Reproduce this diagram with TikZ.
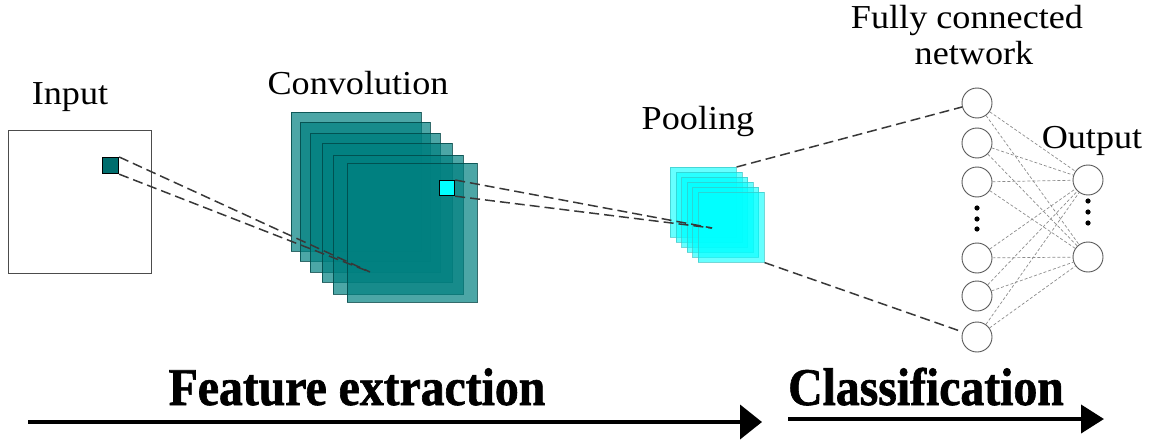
\documentclass[tikz,border=0pt]{standalone}
\usepackage{fontspec}
\setmainfont{Liberation Serif}[FakeStretch=1.08]
\newfontfamily\boldlab{Liberation Serif Bold}[FakeStretch=0.9,FakeBold=1.2]
\usetikzlibrary{arrows.meta}
\definecolor{aqua}{RGB}{0,255,255}
\definecolor{tealc}{RGB}{0,128,128}
\begin{document}
\begin{tikzpicture}[x=1pt,y=-1pt,
  lab/.style={font=\fontsize{33.5}{40}\selectfont, inner sep=0pt, anchor=base},
  biglab/.style={font=\boldlab\fontsize{53}{60}\selectfont, inner sep=0pt, anchor=base},
  convsq/.style={rectangle, anchor=north west, minimum width=130pt, minimum height=139pt, inner sep=0pt,
    fill=tealc, fill opacity=0.7, draw=tealc!55!black, draw opacity=0.8, line width=0.8pt},
  poolsq/.style={rectangle, anchor=north west, minimum width=66pt, minimum height=70pt, inner sep=0pt,
    fill=aqua, fill opacity=0.6, draw=aqua!55!gray, draw opacity=0.7, line width=0.6pt},
  smallsq/.style={rectangle, anchor=north west, inner sep=0pt, draw=black, line width=1.2pt},
  dl/.style={dash pattern=on 10pt off 5pt, line width=1.5pt, draw=black!78},
  fcl/.style={dash pattern=on 3pt off 2pt, line width=0.7pt, draw=black!45},
  neuron/.style={circle, draw=black!65, line width=0.9pt, fill=white, minimum size=30pt, inner sep=0pt},
  bigarrow/.style={line width=4pt, -{Triangle[length=22pt,width=34pt]}},
  smallarrow/.style={line width=4pt, -{Triangle[length=23pt,width=28pt]}}
]
\useasboundingbox (0,0) rectangle (1153,441);

% Input
\node[rectangle, anchor=north west, minimum width=143pt, minimum height=143pt, inner sep=0pt,
  draw=black!70, line width=0.9pt] (inbox) at (8,130) {};
\node[smallsq, minimum size=16pt, fill=tealc!85!black] (insq) at (102,157) {};
\node[lab] (tin) at (70,105) {Input};

% Convolution stack
\node[convsq] (c1) at (291,112) {};
\node[convsq] (c2) at (300,122) {};
\node[convsq] (c3) at (310,133) {};
\node[convsq] (c4) at (322,143) {};
\node[convsq] (c5) at (333,155) {};
\node[convsq] (c6) at (347,163) {};
\node[smallsq, minimum size=15pt, fill=aqua] (csq) at (439,180) {};
\node[lab] (tconv) at (358,95) {Convolution};

\coordinate (cf) at (370,272);
\draw[dl] (insq.north east) -- (cf);
\draw[dl] (insq.south east) -- (cf);

% Pooling stack
\foreach \i/\x/\y in {1/670/167, 2/675.6/172, 3/681.2/177, 4/686.8/182, 5/692.4/187, 6/698/192}{
  \node[poolsq] (p\i) at (\x,\y) {};
}
\node[lab] (tpool) at (698,130) {Pooling};

\coordinate (pf) at (712,228);
\draw[dl] (csq.north east) -- (pf);
\draw[dl] (csq.south east) -- (pf);

% Fully connected network
\foreach \i/\y in {1/103, 2/143, 3/182, 4/258, 5/296, 6/337}{
  \node[neuron] (f\i) at (977,\y) {};
}
\node[neuron] (o1) at (1088,180) {};
\node[neuron] (o2) at (1088,257) {};
\foreach \i in {1,...,6}{
  \foreach \j in {1,2}{
    \draw[fcl] (f\i) -- (o\j);
  }
}
\foreach \y in {208,219,229}{ \fill (977,\y) circle (2.6); }
\foreach \y in {201,212,223}{ \fill (1088,\y) circle (2.6); }

\draw[dl] (p1.north east) -- (f1);
\draw[dl] (p6.south east) -- (f6);

\node[lab] (tfc1) at (967,29) {Fully connected};
\node[lab] (tfc2) at (974,65) {network};
\node[lab] (tout) at (1092,149) {Output};

% Bottom arrows
\coordinate (a1s) at (28,422);
\coordinate (a1e) at (762,422);
\draw[bigarrow] (a1s) -- (a1e);
\coordinate (a2s) at (788,419);
\coordinate (a2e) at (1104,419);
\draw[smallarrow] (a2s) -- (a2e);
\node[biglab] (tfeat) at (357,405) {Feature extraction};
\node[biglab] (tclass) at (926,405) {Classification};
\end{tikzpicture}
\end{document}
